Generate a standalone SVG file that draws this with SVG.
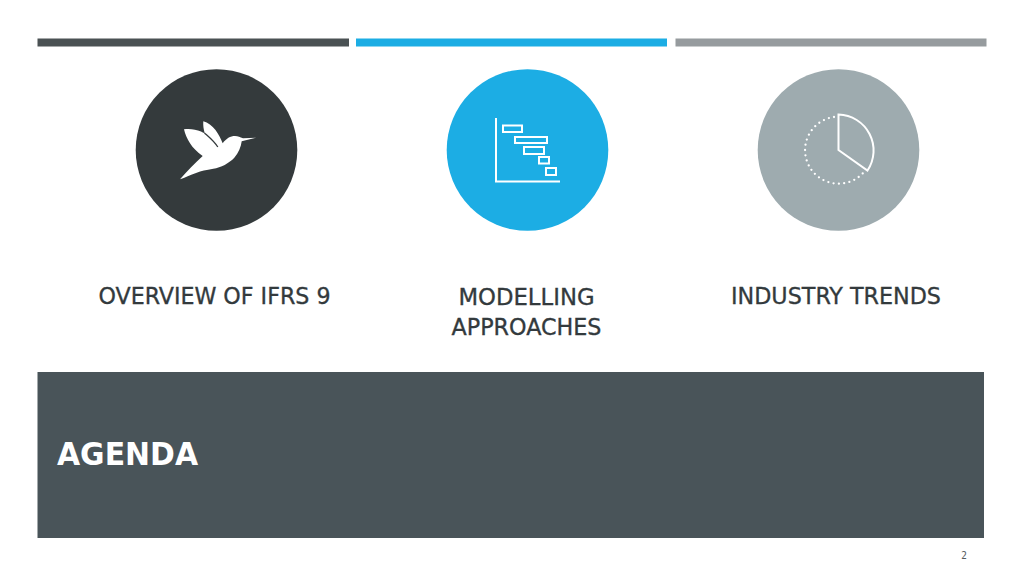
<svg xmlns="http://www.w3.org/2000/svg" width="1024" height="576" viewBox="0 0 1024 576">
<style>
.lbl{font-family:"DejaVu Sans Condensed","DejaVu Sans",sans-serif;font-size:23px;fill:#333a3d;stroke:#333a3d;stroke-width:.3;text-anchor:middle}
.ln{fill:none;stroke:#fff;stroke-width:2}
</style>
<rect width="1024" height="576" fill="#fff"/>
<g id="bars">
<rect x="37.500" y="38.500" width="311.500" height="8" fill="#4a5153"/>
<rect x="356" y="38.500" width="311" height="8" fill="#1cade4"/>
<rect x="675.500" y="38.500" width="311" height="8" fill="#969b9e"/>
</g>
<g id="node-overview">
<circle cx="216.500" cy="150" r="80.800" fill="#343a3c"/>
<path fill="#fff" d="M180 179.300C187 171 195 163 202.700 156C197 152 193 148 190 143.300C187 138.500 185 134 184 129.300C190 128.500 196 129.500 201 131.500C203 132.500 204 133 204.800 133.500C203.500 129 203 125 203.300 121.200C208 122.500 212 125.500 215.500 130C218.500 134 221 139 222.700 143.300C226 138.500 230.500 136 235 136C238 136 240 137.500 243 138.300L256 137.700L241.700 141.300C241 147 238.500 153 234.500 157.500C229 163.500 221 167.500 213.300 168.800C206 170 201 171 196.700 172.700C190 175 185 177.500 180 179.300Z"/>
<path d="M204.500 133C209 137 214 141 217.800 147" fill="none" stroke="#343a3c" stroke-width="1.300"/>
<text class="lbl" x="214.500" y="303.500" textLength="232" lengthAdjust="spacingAndGlyphs">OVERVIEW OF IFRS 9</text>
</g>
<g id="node-modelling">
<circle cx="527.500" cy="150" r="80.800" fill="#1cade4"/>
<path class="ln" d="M496 118V181.500H560"/>
<rect class="ln" x="503" y="125.500" width="19" height="6.500"/>
<rect class="ln" x="515" y="137" width="32" height="6"/>
<rect class="ln" x="524" y="147" width="20" height="7"/>
<rect class="ln" x="539" y="157" width="10" height="6.500"/>
<rect class="ln" x="546" y="168" width="10" height="7"/>
<text class="lbl" x="526.500" y="304.500" textLength="136" lengthAdjust="spacingAndGlyphs">MODELLING</text>
<text class="lbl" x="526.500" y="334.500" textLength="150" lengthAdjust="spacingAndGlyphs">APPROACHES</text>
</g>
<g id="node-trends">
<circle cx="838.500" cy="150" r="80.800" fill="#9eabaf"/>
<path class="ln" d="M838.500 114.500A36 36 0 0 1 867.500 170.500L838.500 150Z"/>
<path d="M834 117A33.500 33.500 0 1 0 864 172" fill="none" stroke="#fff" stroke-width="2.300" stroke-linecap="round" stroke-dasharray="0 5.300"/>
<text class="lbl" x="836" y="303.500" textLength="210" lengthAdjust="spacingAndGlyphs">INDUSTRY TRENDS</text>
</g>
<g id="banner">
<rect x="37.500" y="372" width="946.500" height="166" fill="#495459"/>
<text x="57" y="464.500" font-family="'DejaVu Sans Condensed','DejaVu Sans',sans-serif" font-size="32" font-weight="700" fill="#fff" textLength="141" lengthAdjust="spacingAndGlyphs">AGENDA</text>
</g>
<text x="964" y="559" font-family="'DejaVu Sans Condensed','DejaVu Sans',sans-serif" font-size="10" fill="#555c5f" text-anchor="middle">2</text>
<g id="connectors"/>
</svg>
